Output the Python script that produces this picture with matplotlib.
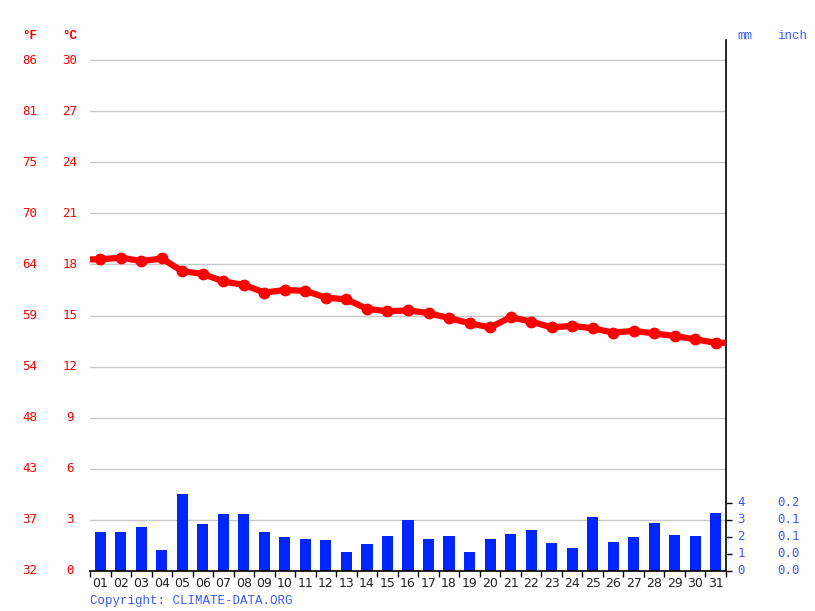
import matplotlib.pyplot as plt
import matplotlib.transforms as mtransforms
import numpy as np

# 日ごとのデータ
days = [f"{d:02d}" for d in range(1, 32)]
temp_c = [18.3, 18.4, 18.2, 18.35, 17.6, 17.45, 17.0, 16.8, 16.35, 16.5, 16.45, 16.05,
          15.95, 15.4, 15.25, 15.3, 15.15, 14.85, 14.55, 14.3, 14.9, 14.65, 14.3, 14.4,
          14.25, 14.0, 14.1, 13.95, 13.8, 13.6, 13.4]
rain_mm = [2.27, 2.27, 2.56, 1.22, 4.55, 2.75, 3.33, 3.33, 2.27, 1.98, 1.86, 1.80,
           1.10, 1.59, 2.03, 2.98, 1.86, 2.03, 1.10, 1.86, 2.15, 2.38, 1.63, 1.34,
           3.20, 1.69, 1.98, 2.79, 2.09, 2.03, 3.43]

c_ticks = [0, 3, 6, 9, 12, 15, 18, 21, 24, 27, 30]
f_labels = ["32", "37", "43", "48", "54", "59", "64", "70", "75", "81", "86"]
mm_ticks = [0, 1, 2, 3, 4]
inch_labels = ["0.0", "0.0", "0.1", "0.1", "0.2"]

W, H = 815, 611
RED = "#ff0000"
BLUE = "#0026ff"
LBLUE = "#3a5cff"
mono = "DejaVu Sans Mono"
cour = "Liberation Mono"

fig = plt.figure(figsize=(W / 100, H / 100), dpi=100)
ax = fig.add_axes([90 / W, 1 - 571 / H, (726 - 90) / W, (571 - 40) / H])

x = np.arange(1, 32)
ax.bar(x, rain_mm, width=0.54, color=BLUE, zorder=2)

# 線は端まで伸ばす
xl = np.r_[0.5, x, 31.5]
yl = np.r_[temp_c[0], temp_c, temp_c[-1]]
ax.plot(xl, yl, color=RED, linewidth=4.5, zorder=3, solid_capstyle="butt")
ax.plot(x, temp_c, "o", color=RED, markersize=7.5, zorder=4)

ax.set_xlim(0.5, 31.5)
ax.set_ylim(0, (571 - 40) / 17.03)

for c in c_ticks[1:]:
    ax.axhline(c, color="#c8c8c8", linewidth=1, zorder=1)

for s in ["top", "left"]:
    ax.spines[s].set_visible(False)
ax.spines["bottom"].set_linewidth(1.2)
ax.spines["right"].set_linewidth(1.2)

ax.set_xticks(np.arange(0.5, 32, 1))
ax.set_xticklabels([])
ax.tick_params(axis="x", length=4, width=1, direction="out")
ax.set_xticks(x, minor=True)
ax.set_xticklabels(days, minor=True, fontsize=9, color="#222222", family="DejaVu Sans")
ax.tick_params(axis="x", which="minor", length=0, pad=4)

ax.yaxis.tick_right()
ax.set_yticks(mm_ticks)
ax.set_yticklabels([])
ax.tick_params(axis="y", length=4, width=1, direction="out")

tr = mtransforms.blended_transform_factory(fig.transFigure, ax.transData)
for c, f in zip(c_ticks, f_labels):
    ax.text(30 / W, c, f, transform=tr, color=RED, fontsize=9, family=mono,
            ha="center", va="center")
    ax.text(70 / W, c, str(c), transform=tr, color=RED, fontsize=9, family=mono,
            ha="center", va="center")
for m, inch in zip(mm_ticks, inch_labels):
    ax.text(741 / W, m, str(m), transform=tr, color=LBLUE, fontsize=9, family=mono,
            ha="center", va="center")
    ax.text(789 / W, m, inch, transform=tr, color=LBLUE, fontsize=9, family=mono,
            ha="center", va="center")

fig.text(30 / W, 1 - 36 / H, "°F", color=RED, fontsize=9, family=cour, weight="bold",
         ha="center", va="center")
fig.text(70 / W, 1 - 36 / H, "°C", color=RED, fontsize=9, family=cour, weight="bold",
         ha="center", va="center")
fig.text(745 / W, 1 - 36 / H, "mm", color=LBLUE, fontsize=9, family=cour, ha="center", va="center")
fig.text(792 / W, 1 - 36 / H, "inch", color=LBLUE, fontsize=9, family=cour, ha="center", va="center")
fig.text(90 / W, 1 - 601 / H, "Copyright: CLIMATE-DATA.ORG", color=LBLUE, fontsize=9,
         family=cour, ha="left", va="center")

fig.savefig("out.png", dpi=100)
